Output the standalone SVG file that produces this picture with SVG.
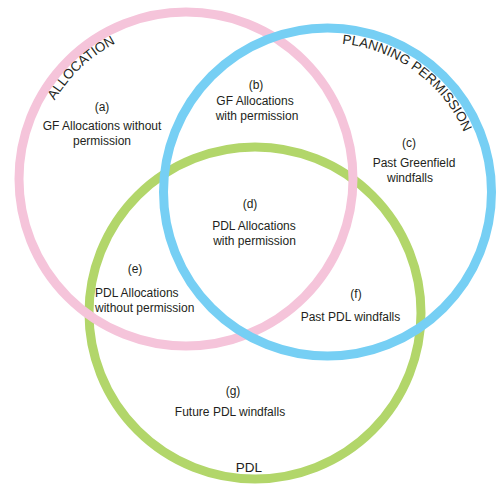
<svg xmlns="http://www.w3.org/2000/svg" width="496" height="486" viewBox="0 0 496 486">
<style>
.ring{fill:none;stroke-width:9}
.lbl{font-family:"Liberation Sans",Arial,sans-serif;font-size:12px;fill:#231f20;text-anchor:middle}
.lft{text-anchor:start}
.ttl{font-family:"Liberation Sans",Arial,sans-serif;font-size:13.5px;fill:#231f20}
</style>
<defs>
<path id="arcAlloc" d="M33.6,165.5 A153,153 0 0 1 181.7,26.1"/>
<path id="arcPlan" d="M288.9,48.1 A149,149 0 0 1 476.3,184.2"/>
</defs>
<rect width="496" height="486" fill="#ffffff"/>
<g id="sets">
<circle id="pdl" class="ring" cx="255" cy="313" r="166" stroke="#b2d66a"/>
<circle id="allocation" class="ring" cx="186" cy="179" r="167" stroke="#f5c4da"/>
<circle id="planning" class="ring" cx="327.5" cy="192" r="164" stroke="#76cff4"/>
</g>
<g id="titles">
<text class="ttl"><textPath href="#arcAlloc" startOffset="50%" text-anchor="middle">ALLOCATION</textPath></text>
<text class="ttl"><textPath href="#arcPlan" startOffset="50%" text-anchor="middle">PLANNING PERMISSION</textPath></text>
<text class="ttl" x="249" y="472" text-anchor="middle" font-size="14">PDL</text>
</g>
<g id="region-a">
<text class="lbl" x="102" y="111">(a)</text>
<text class="lbl" x="102" y="130">GF Allocations without</text>
<text class="lbl" x="102" y="145">permission</text>
</g>
<g id="region-b">
<text class="lbl" x="256" y="89">(b)</text>
<text class="lbl" x="255" y="105">GF Allocations</text>
<text class="lbl" x="257" y="120">with permission</text>
</g>
<g id="region-c">
<text class="lbl" x="409" y="147">(c)</text>
<text class="lbl" x="414" y="167">Past Greenfield</text>
<text class="lbl" x="410" y="182">windfalls</text>
</g>
<g id="region-d">
<text class="lbl" x="250" y="208">(d)</text>
<text class="lbl" x="254" y="230">PDL Allocations</text>
<text class="lbl" x="254.5" y="245">with permission</text>
</g>
<g id="region-e">
<text class="lbl" x="135" y="273">(e)</text>
<text class="lbl lft" x="95" y="297">PDL Allocations</text>
<text class="lbl lft" x="95" y="312">without permission</text>
</g>
<g id="region-f">
<text class="lbl" x="356" y="298">(f)</text>
<text class="lbl" x="350.5" y="321">Past PDL windfalls</text>
</g>
<g id="region-g">
<text class="lbl" x="233" y="395">(g)</text>
<text class="lbl" x="230" y="416">Future PDL windfalls</text>
</g>
</svg>
